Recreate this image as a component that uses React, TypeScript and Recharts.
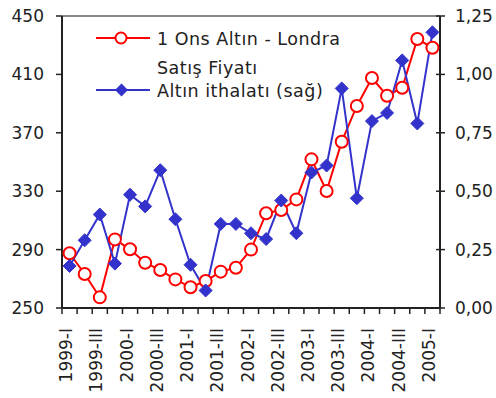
import { LineChart, Line, XAxis, YAxis, Legend, ReferenceLine } from 'recharts';

const quarters = [
  '1999-I', '1999-II', '1999-III', '1999-IV',
  '2000-I', '2000-II', '2000-III', '2000-IV',
  '2001-I', '2001-II', '2001-III', '2001-IV',
  '2002-I', '2002-II', '2002-III', '2002-IV',
  '2003-I', '2003-II', '2003-III', '2003-IV',
  '2004-I', '2004-II', '2004-III', '2004-IV',
  '2005-I',
];

// London gold price, USD per ounce (left axis)
const goldPrice = [
  287.5, 273.3, 257.3, 297.0, 290.2, 281.0, 276.0, 269.6, 264.2, 268.5,
  274.9, 277.6, 290.0, 314.9, 317.1, 324.4, 351.8, 330.1, 363.9, 388.4,
  407.5, 395.4, 400.9, 434.2, 428.3,
];

// gold imports (right axis)
const goldImports = [
  0.18, 0.29, 0.4, 0.19, 0.485, 0.435, 0.59, 0.38, 0.185, 0.075,
  0.36, 0.36, 0.32, 0.295, 0.46, 0.32, 0.58, 0.61, 0.94, 0.47,
  0.8, 0.835, 1.06, 0.79, 1.18,
];

const leftTicks = [250, 290, 330, 370, 410, 450];
const rightTicks = [0, 0.25, 0.5, 0.75, 1, 1.25];

const rows = quarters.map((q, i) => ({ q, price: goldPrice[i], imports: goldImports[i] }));

const RED = '#FF0000';
const BLUE = '#3333CC';
const AXIS = '#222';
const FONT = '"DejaVu Sans", sans-serif';

const PLOT_W = 378;
const BAND = PLOT_W / quarters.length;

const QuarterTick = (props: any) => {
  const { x, y, index } = props;
  const half = BAND / 2;
  const y0 = y - 6;
  return (
    <g>
      <line x1={x - half} x2={x - half} y1={y0} y2={y} stroke={AXIS} strokeWidth={1.5} />
      {index === quarters.length - 1 && (
        <line x1={x + half} x2={x + half} y1={y0} y2={y} stroke={AXIS} strokeWidth={1.5} />
      )}
      {index % 2 === 0 && (
        <text
          x={x + 2.5}
          y={y + 14}
          transform={`rotate(-90, ${x + 2.5}, ${y + 14})`}
          textAnchor="end"
          fontFamily={FONT}
          fontSize={17}
          fill={AXIS}
        >
          {props.payload.value}
        </text>
      )}
    </g>
  );
};

const RightTick = (props: any) => {
  const { x, y, payload } = props;
  return (
    <g>
      <line x1={x - 19} x2={x - 10} y1={y} y2={y} stroke={AXIS} strokeWidth={1.5} />
      <text x={x} y={y} dy={6} textAnchor="start" fontFamily={FONT} fontSize={17} fill={AXIS}>
        {payload.value.toFixed(2).replace('.', ',')}
      </text>
    </g>
  );
};

const Diamond = (props: any) => {
  const { cx, cy } = props;
  if (cx == null || cy == null) return null;
  const r = 6.5;
  return (
    <polygon
      points={`${cx},${cy - r} ${cx + r},${cy} ${cx},${cy + r} ${cx - r},${cy}`}
      fill={BLUE}
      stroke={BLUE}
      strokeWidth={1}
    />
  );
};

const LegendBox = () => (
  <svg width={290} height={90} style={{ overflow: 'visible', display: 'block' }}>
    <line x1={6} x2={60} y1={18} y2={18} stroke={RED} strokeWidth={2} />
    <circle cx={31} cy={18} r={5.5} fill="#fff" stroke={RED} strokeWidth={2} />
    <text x={67} y={25} fontFamily={FONT} fontSize={17.5} letterSpacing={0.5} fill={AXIS}>
      1 Ons Altın - Londra
    </text>
    <text x={67} y={54} fontFamily={FONT} fontSize={17.5} letterSpacing={0.5} fill={AXIS}>
      Satış Fiyatı
    </text>
    <line x1={6} x2={60} y1={70} y2={70} stroke={BLUE} strokeWidth={2} />
    <polygon points="31.5,63.5 38,70 31.5,76.5 25,70" fill={BLUE} />
    <text x={67} y={77} fontFamily={FONT} fontSize={17.5} letterSpacing={0.5} fill={AXIS}>
      Altın ithalatı (sağ)
    </text>
  </svg>
);

export default function App() {
  return (
    <div style={{ position: 'absolute', left: 0, top: 0, width: 496, height: 398, background: '#fff' }}>
      <LineChart width={496} height={398} data={rows} margin={{ top: 16, right: 0, bottom: 0, left: 0 }}>
        <XAxis
          dataKey="q"
          interval={0}
          height={90}
          padding={{ left: BAND / 2, right: BAND / 2 }}
          tickLine={false}
          tickSize={6}
          tickMargin={0}
          tick={<QuarterTick />}
          axisLine={{ stroke: AXIS, strokeWidth: 2 }}
        />
        <YAxis
          yAxisId="left"
          domain={[250, 450]}
          ticks={leftTicks}
          width={62}
          tickSize={6}
          tickMargin={12}
          tick={{ fontFamily: FONT, fontSize: 17, fill: AXIS }}
          tickLine={{ stroke: AXIS, strokeWidth: 1.5 }}
          axisLine={{ stroke: AXIS, strokeWidth: 2 }}
        />
        <YAxis
          yAxisId="right"
          orientation="right"
          domain={[0, 1.25]}
          ticks={rightTicks}
          width={56}
          tickSize={5}
          tickMargin={10}
          tickLine={false}
          tick={<RightTick />}
          axisLine={{ stroke: AXIS, strokeWidth: 2 }}
        />
        <ReferenceLine yAxisId="left" y={450} stroke="#888" strokeWidth={2} />
        <Legend
          layout="horizontal"
          verticalAlign="middle"
          align="center"
          wrapperStyle={{ position: 'absolute', top: 20, left: 90, width: 290, height: 90 }}
          content={() => <LegendBox />}
        />
        <Line
          yAxisId="left"
          dataKey="price"
          stroke={RED}
          strokeWidth={2}
          dot={{ r: 6, fill: '#fff', stroke: RED, strokeWidth: 2 }}
          activeDot={false}
          isAnimationActive={false}
        />
        <Line
          yAxisId="right"
          dataKey="imports"
          stroke={BLUE}
          strokeWidth={2}
          dot={<Diamond />}
          activeDot={false}
          isAnimationActive={false}
        />
      </LineChart>
    </div>
  );
}
